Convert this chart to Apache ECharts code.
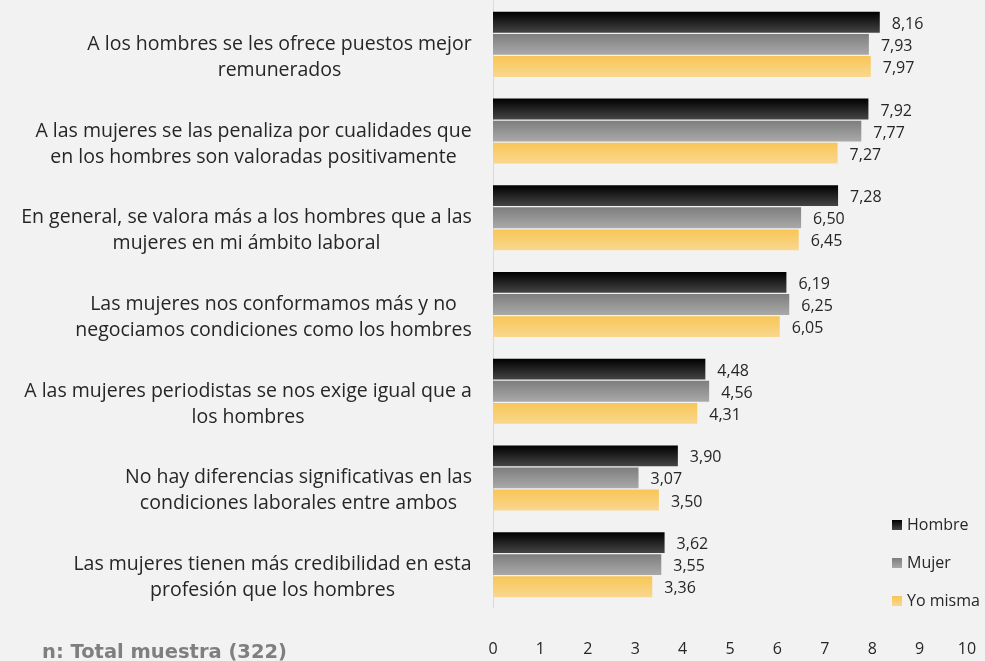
<!DOCTYPE html>
<html>
<head>
<meta charset="utf-8">
<script src="https://cdn.jsdelivr.net/npm/echarts@6/dist/echarts.min.js"></script>
<style>
  html, body { margin: 0; padding: 0; background: #f2f2f2; }
  #chart { width: 985px; height: 661px; }
</style>
</head>
<body>
<div id="chart"></div>
<script>
// Statements, top to bottom
const categories = [
  'A los hombres se les ofrece puestos mejor\nremunerados',
  'A las mujeres se las penaliza por cualidades que\nen los hombres son valoradas positivamente',
  'En general, se valora más a los hombres que a las\nmujeres en mi ámbito laboral',
  'Las mujeres nos conformamos más y no\nnegociamos condiciones como los hombres',
  'A las mujeres periodistas se nos exige igual que a\nlos hombres',
  'No hay diferencias significativas en las\ncondiciones laborales entre ambos',
  'Las mujeres tienen más credibilidad en esta\nprofesión que los hombres'
];
const hombre  = [8.16, 7.92, 7.28, 6.19, 4.48, 3.90, 3.62];
const mujer   = [7.93, 7.77, 6.50, 6.25, 4.56, 3.07, 3.55];
const yoMisma = [7.97, 7.27, 6.45, 6.05, 4.31, 3.50, 3.36];
const seriesNames = ['Hombre', 'Mujer', 'Yo misma'];
const xTicks = { min: 0, max: 10, interval: 1 };
const footnote = 'n: Total muestra (322)';

const FONT = '"Open Sans", "Noto Sans", sans-serif';
const LABEL_SIZE = 19.5;

// Measure each category block so its lines can be centred inside it
const ctx = document.createElement('canvas').getContext('2d');
ctx.font = LABEL_SIZE + 'px "Open Sans"';
const rich = {};
categories.forEach((c, i) => {
  const w = Math.max(...c.split('\n').map(l => ctx.measureText(l).width));
  rich['c' + i] = { width: Math.ceil(w) + 2, align: 'center', fontSize: LABEL_SIZE,
                    fontFamily: FONT, color: '#262626', lineHeight: 26 };
});

function grad(top, bottom) {
  return new echarts.graphic.LinearGradient(0, 0, 0, 1, [
    { offset: 0, color: top }, { offset: 1, color: bottom }
  ]);
}
const colors = [grad('#000000', '#454545'), grad('#7e7e7e', '#a9a9a9'), grad('#f8c657', '#f9d78e')];
const values = [hombre, mujer, yoMisma];

const fmt = v => v.toFixed(2).replace('.', ',');

const chart = echarts.init(document.getElementById('chart'), null, { renderer: 'canvas' });
chart.setOption({
  backgroundColor: '#f2f2f2',
  animation: false,
  title: {
    text: footnote, left: 37, top: 638,
    textStyle: { fontFamily: '"DejaVu Sans", sans-serif', fontWeight: 'bold',
                 fontSize: 19.5, color: '#7f7f7f' }
  },
  legend: {
    data: seriesNames,
    orient: 'vertical', left: 887, top: 512,
    icon: 'rect', itemWidth: 10, itemHeight: 10, itemGap: 22,
    textStyle: { fontFamily: FONT, fontSize: 16, color: '#262626' }
  },
  grid: { left: 493, right: 18, top: 1, bottom: 53, containLabel: false },
  xAxis: {
    type: 'value', min: xTicks.min, max: xTicks.max, interval: xTicks.interval,
    axisLine: { show: false }, axisTick: { show: false }, splitLine: { show: false },
    axisLabel: { margin: 33, fontFamily: FONT, fontSize: 16, color: '#262626' }
  },
  yAxis: {
    type: 'category', data: categories, inverse: true,
    axisLine: { show: true, lineStyle: { color: '#d6dae3', width: 1 } },
    axisTick: { show: false },
    axisLabel: {
      margin: 20, lineHeight: 26, fontSize: LABEL_SIZE, fontFamily: FONT,
      formatter: (v, i) => '\n' + v.split('\n').map(l => '{c' + i + '|' + l + '}').join('\n'),
      rich: rich
    }
  },
  series: seriesNames.map((name, k) => ({
    name: name, type: 'bar', data: values[k],
    barGap: '6%', barCategoryGap: '25%',
    itemStyle: { color: colors[k] },
    label: {
      show: true, position: 'right', distance: 12, offset: [0, 2],
      fontFamily: FONT, fontSize: 16, color: '#262626',
      formatter: p => fmt(p.value)
    }
  }))
});
</script>
</body>
</html>
